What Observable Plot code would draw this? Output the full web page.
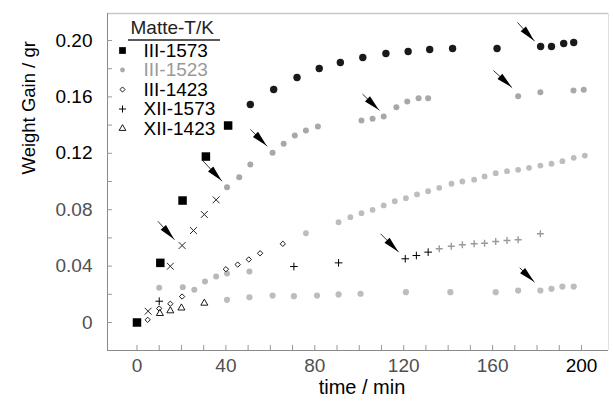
<!DOCTYPE html>
<html><head><meta charset="utf-8">
<script src="https://cdn.jsdelivr.net/npm/d3@7"></script>
<script src="https://cdn.jsdelivr.net/npm/@observablehq/plot@0.6"></script>
<style>html,body{margin:0;padding:0;background:#fff}svg{display:block}</style>
</head><body><div id="chart"></div>
<script>
const FONT = '"Liberation Sans", Arial, Helvetica, sans-serif';

// ---- data (time / min, weight gain / gr) ----
const t1573 = [0, 10.5, 20.5, 31, 41, 51, 61.5, 72, 82, 91.5, 101.6, 112, 122, 131.7, 142, 162, 181.6, 186.5, 192, 196.5];
const w1573 = [0, 0.0423, 0.0865, 0.1177, 0.1397, 0.1546, 0.1652, 0.1738, 0.1801, 0.1844, 0.1879, 0.1908, 0.1922, 0.1936, 0.1943, 0.1943, 0.1957, 0.1957, 0.1979, 0.1986];

const tCross = [5, 15, 20.3, 25.4, 30.3, 35.6];
const wCross = [0.008, 0.0399, 0.0546, 0.0652, 0.0766, 0.087];

const t1523 = [40.5, 46, 51, 61, 66, 71, 76, 81.4, 101, 106, 111, 116.7, 121.6, 126.7, 131, 171.5, 181.5, 196.4, 201];
const w1523 = [0.096, 0.103, 0.1121, 0.1204, 0.1267, 0.1326, 0.1362, 0.139, 0.1433, 0.1445, 0.1461, 0.1527, 0.1567, 0.1591, 0.1591, 0.1605, 0.1633, 0.1645, 0.165];

const t1423 = [4.8, 10, 15, 20.3, 40, 45.3, 50.3, 55.4, 65.6];
const w1423 = [0.0019, 0.0099, 0.0133, 0.0184, 0.0378, 0.0411, 0.0447, 0.0491, 0.0558];
const t1423g = [76, 90.7, 96, 101, 106, 111, 116, 121, 126, 131, 136, 141.5, 146.4, 151.7, 156.4, 161.4, 166.5, 171.5, 176.4, 181.5, 186.5, 191.4, 196.5, 201.5];
const w1423g = [0.0633, 0.0711, 0.0747, 0.0775, 0.0799, 0.083, 0.086, 0.0882, 0.0908, 0.0931, 0.0955, 0.0984, 0.1, 0.1013, 0.1036, 0.1059, 0.1073, 0.1083, 0.1097, 0.1113, 0.1126, 0.1144, 0.1168, 0.1184];

const tEarlyGray = [10, 20.6, 25.8, 30.6, 35.6, 40.5, 50.6];
const wEarlyGray = [0.0246, 0.025, 0.0232, 0.0291, 0.0326, 0.0348, 0.0362];

const tXII1573 = [10, 70.6, 90.7, 120.7, 125.7, 131];
const wXII1573 = [0.0151, 0.0397, 0.0423, 0.0452, 0.0475, 0.0499];
const tXII1573g = [136, 141.4, 146.4, 151.7, 156.4, 161.4, 166.5, 171.5, 181.5];
const wXII1573g = [0.0523, 0.0541, 0.0551, 0.0558, 0.0562, 0.0574, 0.0582, 0.0587, 0.0629];

const tXII1423 = [10.3, 15, 20, 30.3];
const wXII1423 = [0.0064, 0.0083, 0.0103, 0.0137];
const tXII1423g = [40.5, 50.6, 61, 70.6, 81, 90.7, 100.6, 121, 141, 161.4, 171.5, 181.5, 186.5, 191.4, 196.5];
const wXII1423g = [0.0161, 0.0179, 0.0191, 0.0187, 0.0191, 0.0199, 0.0204, 0.0215, 0.0215, 0.0215, 0.0227, 0.0227, 0.0239, 0.0255, 0.0255];

// annotation arrows: from (t0,w0) to tip (t1,w1)
const arrowT0 = [9.4, 29.5, 51.1, 101.5, 160.4, 171.2, 109.6, 172.2];
const arrowW0 = [0.0718, 0.1149, 0.1369, 0.162, 0.1787, 0.2128, 0.0629, 0.0388];
const arrowT1 = [16.9, 38.3, 58.6, 109.1, 168.8, 178.9, 117.8, 178.9];
const arrowW1 = [0.0587, 0.1002, 0.125, 0.1504, 0.1665, 0.1995, 0.0499, 0.0286];

const legendTitle = "Matte-T/K";
const legendNames = ["III-1573", "III-1523", "III-1423", "XII-1573", "XII-1423"];

const xTicksA = [0, 40, 80, 120, 160];
const xTicksB = [200];
const yTicksA = [0, 0.04, 0.08];
const yTicksB = [0.12, 0.16, 0.20];
const xDomain = [-13.27, 212.15];
const yDomain = [-0.01986, 0.21915];

const pts = (t, w) => t.map((d, i) => ({t: d, w: w[i]}));
const fmtY = d => d === 0 ? "0" : d.toFixed(2);
const arrows = arrowT0.map((d, i) => ({t0: d, w0: arrowW0[i], t1: arrowT1[i], w1: arrowW1[i]}));
const NS = "http://www.w3.org/2000/svg";

function arrowHeads(index, scales) {
  const g = document.createElementNS(NS, "g");
  arrows.forEach(a => {
    const x0 = scales.x(a.t0), y0 = scales.y(a.w0), x1 = scales.x(a.t1), y1 = scales.y(a.w1);
    const dx = x1 - x0, dy = y1 - y0, L = Math.hypot(dx, dy), ux = dx / L, uy = dy / L;
    const hl = Math.min(16, L), hw = 3.6;
    const bx = x1 - ux * hl, by = y1 - uy * hl;
    const p = document.createElementNS(NS, "path");
    p.setAttribute("d", `M${x1},${y1}L${bx - uy * hw},${by + ux * hw}L${bx + uy * hw},${by - ux * hw}Z`);
    p.setAttribute("fill", "#000");
    g.appendChild(p);
  });
  return g;
}

// underline of the legend title, placed relative to the frame's top-left corner
function titleUnderline(index, scales, values, dimensions) {
  const {marginLeft, marginTop} = dimensions;
  const l = document.createElementNS(NS, "line");
  l.setAttribute("x1", marginLeft + 21);
  l.setAttribute("x2", marginLeft + 113);
  l.setAttribute("y1", marginTop + 27);
  l.setAttribute("y2", marginTop + 27);
  l.setAttribute("stroke", "#222");
  l.setAttribute("stroke-width", 1.5);
  return l;
}

const legendSym = [
  {symbol: "square", r: 3.8, fill: "#000"},
  {symbol: "circle", r: 2.4, fill: "#aaa"},
  {symbol: "diamond2", r: 2.3, stroke: "#000", fill: "#fff", strokeWidth: 0.9},
  {symbol: "plus", r: 2.4, stroke: "#000", strokeWidth: 1},
  {symbol: "triangle", r: 2.5, stroke: "#000", fill: "#fff", strokeWidth: 0.9}
];
const legendMarks = [];
legendNames.forEach((name, i) => {
  const dy = 37 + i * 19.5;
  legendMarks.push(Plot.dot([name], {frameAnchor: "top-left", dx: 15, dy, ...legendSym[i]}));
  legendMarks.push(Plot.text([name], {frameAnchor: "top-left", dx: 36, dy, text: d => d, textAnchor: "start",
    lineAnchor: "middle", fontSize: 19, fill: i === 1 ? "#9a9a9a" : "#000", ariaLabel: i === 1 ? "blur" : "legend"}));
});

const chart = Plot.plot({
  width: 613, height: 409,
  marginLeft: 107, marginRight: 5, marginTop: 13, marginBottom: 59,
  style: {fontFamily: FONT, background: "#fff", color: "#000", overflow: "visible"},
  x: {domain: xDomain},
  y: {domain: yDomain},
  marks: [
    Plot.ruleY([yDomain[1]], {stroke: "#c8c8c8", strokeWidth: 1.5}),
    Plot.ruleX([xDomain[1]], {stroke: "#e0e0e0"}),
    Plot.ruleX([xDomain[0]], {stroke: "#8a8a8a"}),
    Plot.ruleY([yDomain[0]], {stroke: "#8a8a8a"}),
    Plot.axisY(d3.range(0, 0.2001, 0.02), {anchor: "left", tickSize: 5, dx: 5, tickFormat: () => "", label: null, stroke: "#999"}),
    Plot.axisX(d3.range(0, 201, 10), {anchor: "bottom", tickSize: 5, dy: -5, tickFormat: () => "", label: null, stroke: "#999"}),
    Plot.axisY(yTicksA, {anchor: "left", tickSize: 0, tickPadding: 15, tickFormat: fmtY, fontSize: 19, fill: "#505050", label: null, ariaLabel: "blur"}),
    Plot.axisY(yTicksB, {anchor: "left", tickSize: 0, tickPadding: 15, tickFormat: fmtY, fontSize: 19, fill: "#000", label: null}),
    Plot.axisX(xTicksA, {anchor: "bottom", tickSize: 0, tickPadding: 8, fontSize: 19, fill: "#505050", label: null, ariaLabel: "blur"}),
    Plot.axisX(xTicksB, {anchor: "bottom", tickSize: 0, tickPadding: 8, fontSize: 19, fill: "#000", label: null}),
    Plot.text(["Weight Gain / gr"], {frameAnchor: "left", dx: -78, dy: -7.5, rotate: -90, text: d => d, fontSize: 18.5, fill: "#000"}),
    Plot.text(["time / min"], {frameAnchor: "bottom", dx: 4, dy: 37, text: d => d, fontSize: 20, lineAnchor: "middle", fill: "#000"}),

    // gray (later) measurements
    Plot.dot(pts(tEarlyGray, wEarlyGray), {x: "t", y: "w", r: 3, fill: "#b8b8b8", ariaLabel: "blur"}),
    Plot.dot(pts(t1423g, w1423g), {x: "t", y: "w", r: 2.9, fill: "#bdbdbd", ariaLabel: "blur"}),
    Plot.dot(pts(tXII1423g, wXII1423g), {x: "t", y: "w", r: 3.1, fill: "#bdbdbd", ariaLabel: "blur"}),
    Plot.dot(pts(tXII1573g, wXII1573g), {x: "t", y: "w", symbol: "plus", r: 2.4, stroke: "#9a9a9a", strokeWidth: 1.4, ariaLabel: "blur"}),
    Plot.dot(pts(t1523, w1523), {x: "t", y: "w", r: 3, fill: "#a8a8a8", ariaLabel: "blur"}),

    // black symbols
    Plot.dot(pts(t1573, w1573).filter(d => d.t < 45), {x: "t", y: "w", symbol: "square", r: 4.8, fill: "#000"}),
    Plot.dot(pts(t1573, w1573).filter(d => d.t >= 45), {x: "t", y: "w", r: 3.7, fill: "#1a1a1a", ariaLabel: "blur"}),
    Plot.dot(pts(tCross, wCross), {x: "t", y: "w", symbol: "times", r: 3.2, stroke: "#222", strokeWidth: 1}),
    Plot.dot(pts(t1423, w1423), {x: "t", y: "w", symbol: "diamond2", r: 2.4, stroke: "#000", fill: "#fff", strokeWidth: 0.9}),
    Plot.dot(pts(tXII1573, wXII1573), {x: "t", y: "w", symbol: "plus", r: 2.6, stroke: "#000", strokeWidth: 1}),
    Plot.dot(pts(tXII1423, wXII1423), {x: "t", y: "w", symbol: "triangle", r: 2.6, stroke: "#000", fill: "#fff", strokeWidth: 0.9}),

    // annotation arrows
    Plot.link(arrows, {x1: "t0", y1: "w0", x2: "t1", y2: "w1", stroke: "#000", strokeWidth: 0.8}),
    arrowHeads,

    // legend
    Plot.text([legendTitle], {frameAnchor: "top-left", dx: 23, dy: 14, text: d => d, textAnchor: "start", fontSize: 19, lineAnchor: "middle", fill: "#222"}),
    titleUnderline,
    ...legendMarks
  ]
});
document.getElementById("chart").appendChild(chart);
d3.select(chart).selectAll('g[aria-label="blur"]').style("filter", "blur(0.6px)");
</script>
</body></html>
